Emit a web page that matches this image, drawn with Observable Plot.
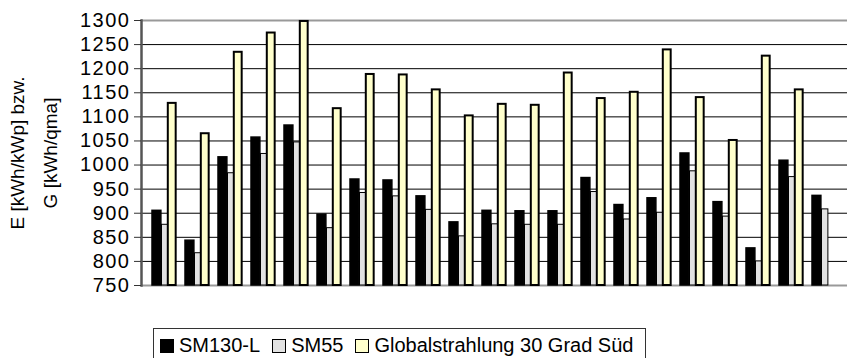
<!DOCTYPE html>
<html><head><meta charset="utf-8">
<script src="https://cdn.jsdelivr.net/npm/d3@7"></script>
<script src="https://cdn.jsdelivr.net/npm/@observablehq/plot@0.6"></script>
<style>
body{margin:0;background:#fff;font-family:"Liberation Sans",Arial,sans-serif;}
#wrap{position:relative;width:847px;height:358px;overflow:hidden;}
#chart svg{display:block;font-family:"Liberation Sans",Arial,sans-serif;}
[aria-label="y-axis tick label"] text{letter-spacing:1.5px;}
[aria-label="ytitle"] text{letter-spacing:1.5px;}
#legend{position:absolute;left:153px;top:328px;height:40px;border:1px solid #333;box-sizing:border-box;font-size:20px;color:#000;display:flex;align-items:flex-start;padding:9px 12px 0 6px;}
#legend .it{display:flex;align-items:center;margin-right:12px;white-space:nowrap;line-height:15px;}
#legend .it:last-child{margin-right:0;}
#legend .sw{width:12px;height:12px;border:1px solid #000;margin-right:5px;}
</style></head>
<body><div id="wrap"><div id="chart"></div><div id="legend"></div></div>
<script>
const groups = ["1","2","3","4","5","6","7","8","9","10","11","12","13","14","15","16","17","18","19","20","21"];
const seriesNames = ["SM130-L","SM55","Globalstrahlung 30 Grad Süd"];
const sm130 = [905,843,1016,1057,1082,897,970,968,935,881,905,904,904,973,917,931,1024,923,827,1009,936];
const sm55 = [876,817,983,1023,1047,869,942,935,907,852,877,876,876,944,887,901,987,893,800,975,908];
const globalRad = [1128,1065,1234,1274,1298,1117,1188,1187,1156,1102,1126,1124,1191,1138,1151,1239,1140,1051,1226,1156,null];
const yTicks = [750,800,850,900,950,1000,1050,1100,1150,1200,1250,1300];
const yTitleLines = ["E [kWh/kWp] bzw.", "G [kWh/qma]"];
const colors = ["#000000","#e2e2e2","#ffffcc"];

const W = 847, H = 300, mL = 141, mR = 0, mT = 20, mB = 15;
const step = (W - mL - mR) / groups.length;
const rows = vals => groups.map((g, i) => ({g, v: vals[i]})).filter(d => d.v != null);
const bar = (vals, l, r, style) => Plot.barY(rows(vals), {x: "g", y1: yTicks[0], y2: "v", insetLeft: l, insetRight: step - r, ...style});
const title = (line, dx) => Plot.text([line], {text: d => d, frameAnchor: "left", dx, rotate: -90, textAnchor: "middle", lineAnchor: "middle", fontSize: 19, ariaLabel: "ytitle"});

const chart = Plot.plot({
  width: W, height: H, marginLeft: mL, marginRight: mR, marginTop: mT, marginBottom: mB,
  x: {type: "band", domain: groups, padding: 0, axis: null},
  y: {domain: [yTicks[0], yTicks[yTicks.length - 1]], axis: null},
  marks: [
    Plot.ruleY(yTicks.slice(1, -1), {stroke: "#000", strokeWidth: 1}),
    Plot.ruleY([yTicks[0], yTicks[yTicks.length - 1]], {stroke: "#999", strokeWidth: 2}),
    bar(sm130, 4, 13.5, {fill: colors[0], stroke: "#000", strokeWidth: 1.5}),
    bar(sm55, 13.5, 20.5, {fill: colors[1], stroke: "#000", strokeWidth: 1}),
    bar(globalRad, 19.8, 28.3, {fill: colors[2], stroke: "#000", strokeWidth: 2}),
    Plot.frame({anchor: "left", stroke: "#555", strokeWidth: 2.5}),
    Plot.axisY(yTicks, {tickSize: 7, tickPadding: 4, fontSize: 20, label: null, stroke: "#333", tickFormat: d3.format("d")}),
    title(yTitleLines[0], -124),
    title(yTitleLines[1], -91)
  ]
});
document.getElementById("chart").appendChild(chart);

const legend = document.getElementById("legend");
seriesNames.forEach((name, i) => {
  const it = document.createElement("div"); it.className = "it";
  const sw = document.createElement("div"); sw.className = "sw"; sw.style.background = colors[i];
  const tx = document.createElement("span"); tx.textContent = name;
  it.appendChild(sw); it.appendChild(tx); legend.appendChild(it);
});
</script></body></html>
